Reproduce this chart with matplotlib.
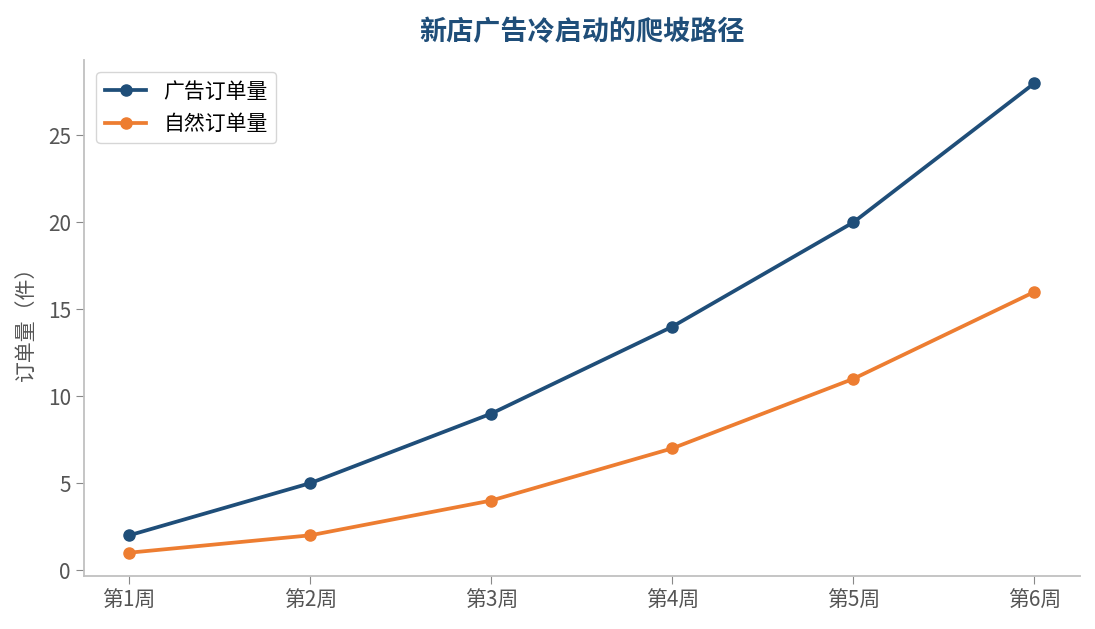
import matplotlib.pyplot as plt

plt.rcParams['font.family'] = ['Noto Sans CJK SC', 'DejaVu Sans']

weeks = ['第1周', '第2周', '第3周', '第4周', '第5周', '第6周']
adOrders = [2, 5, 9, 14, 20, 28]
naturalOrders = [1, 2, 4, 7, 11, 16]

fig = plt.figure(figsize=(10.95, 6.29), dpi=100)
ax = fig.add_axes([0.0767, 0.084, 0.9093, 0.821])

ax.plot(weeks, adOrders, color='#1f4e79', linewidth=2.7, marker='o', markersize=8, label='广告订单量')
ax.plot(weeks, naturalOrders, color='#ed7d31', linewidth=2.7, marker='o', markersize=8, label='自然订单量')

ax.set_title('新店广告冷启动的爬坡路径', fontsize=19.5, fontweight='bold', color='#1f4e79', pad=14)
ax.set_ylabel('订单量（件）', fontsize=15, color='#555555', labelpad=8)

for side in ['top', 'right']:
    ax.spines[side].set_visible(False)
for side in ['left', 'bottom']:
    ax.spines[side].set_color('#c0c0c0')
    ax.spines[side].set_linewidth(1.3)
ax.tick_params(colors='#555555', labelsize=15, length=6)
ax.tick_params(axis='both', color='#888888')

ax.legend(loc='upper left', fontsize=15, frameon=True, edgecolor='#cccccc',
          borderaxespad=0.6, handlelength=2.0)

plt.savefig('out.png', dpi=100)
